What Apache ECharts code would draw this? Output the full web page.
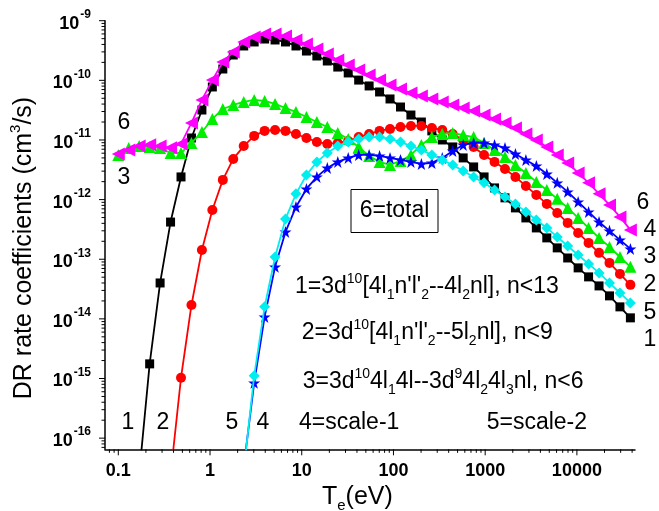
<!DOCTYPE html>
<html>
<head>
<meta charset="utf-8">
<script src="https://cdn.jsdelivr.net/npm/echarts@6/dist/echarts.min.js"></script>
<style>
  html, body { margin: 0; padding: 0; background: #fff; }
  #chart { width: 659px; height: 511px; }
</style>
</head>
<body>
<div id="chart"></div>
<script>
// electron temperature (eV), one entry per marker
const temperatures = [
  0.1, 0.13, 0.169, 0.2197, 0.2856, 0.3713, 0.4827, 0.6275, 0.8157, 1.06,
  1.379, 1.792, 2.33, 3.029, 3.937, 5.119, 6.654, 8.65, 11.25, 14.62,
  19.0, 24.71, 32.12, 41.75, 54.28, 70.56, 91.73, 119.3, 155.0, 201.5,
  262.0, 340.6, 442.8, 575.6, 748.3, 972.8, 1265, 1644, 2137, 2778,
  3612, 4696, 6104, 7935, 10316, 13411, 17434, 22664, 29463, 38302,
]

// DR rate coefficients (cm^3/s)
const rate1 = [
  null, null, 2.5e-17, 1.76e-15, 4.0e-14, 4.2e-13, 2.4e-12, 1.08e-11, 3.18e-11, 7.74e-11,
  1.55e-10, 2.66e-10, 3.77e-10, 4.40e-10, 4.93e-10, 4.75e-10, 4.40e-10, 3.77e-10, 3.10e-10, 2.56e-10,
  2.11e-10, 1.67e-10, 1.33e-10, 1.01e-10, 8.05e-11, 6.38e-11, 4.87e-11, 3.57e-11, 2.62e-11, 2.00e-11,
  1.42e-11, 1.0e-11, 7.64e-12, 5.0e-12, 3.53e-12, 2.40e-12, 1.57e-12, 1.07e-12, 7.26e-13, 4.93e-13,
  3.35e-13, 2.28e-13, 1.55e-13, 1.05e-13, 7.16e-14, 5.06e-14, 3.57e-14, 2.43e-14, 1.59e-14, 1.04e-14,
]
const rate2 = [
  null, null, null, null, null, 2.4e-17, 1.03e-15, 1.71e-14, 1.43e-13, 6.71e-13,
  2.14e-12, 4.81e-12, 7.9e-12, 1.17e-11, 1.42e-11, 1.47e-11, 1.42e-11, 1.26e-11, 1.08e-11, 9.27e-12,
  8.58e-12, 8.91e-12, 9.64e-12, 1.12e-11, 1.26e-11, 1.42e-11, 1.53e-11, 1.65e-11, 1.72e-11, 1.72e-11,
  1.59e-11, 1.47e-11, 1.26e-11, 1.0e-11, 7.64e-12, 5.61e-12, 4.29e-12, 3.27e-12, 2.40e-12, 1.69e-12,
  1.20e-12, 8.47e-13, 5.98e-13, 4.07e-13, 2.76e-13, 1.88e-13, 1.28e-13, 8.69e-14, 5.68e-14, 3.72e-14,
]
const rate3 = [
  5.61e-12, 7.36e-12, 7.9e-12, 7.64e-12, 7.36e-12, 6.05e-12, 6.05e-12, 8.91e-12, 1.36e-11, 2.25e-11,
  3.31e-11, 3.86e-11, 4.34e-11, 4.69e-11, 4.51e-11, 4.02e-11, 3.44e-11, 2.95e-11, 2.43e-11, 2.00e-11,
  1.65e-11, 1.31e-11, 1.04e-11, 7.64e-12, 5.40e-12, 4.29e-12, 3.81e-12, 4.45e-12, 5.61e-12, 8.26e-12,
  1.12e-11, 1.26e-11, 1.31e-11, 1.21e-11, 1.12e-11, 8.91e-12, 6.81e-12, 5.19e-12, 3.81e-12, 2.80e-12,
  1.98e-12, 1.45e-12, 1.03e-12, 7.26e-13, 4.93e-13, 3.35e-13, 2.28e-13, 1.61e-13, 1.09e-13, 7.45e-14,
]
const rate4 = [
  null, null, null, null, null, null, null, null, null, null,
  null, null, 3.3e-17, 8.45e-16, 1.08e-14, 7.45e-14, 2.87e-13, 7.53e-13, 1.51e-12, 2.40e-12,
  3.40e-12, 4.29e-12, 5.0e-12, 5.61e-12, 5.61e-12, 5.40e-12, 5.0e-12, 4.62e-12, 4.29e-12, 3.96e-12,
  4.12e-12, 5.0e-12, 6.54e-12, 8.26e-12, 8.91e-12, 8.91e-12, 8.26e-12, 7.36e-12, 5.82e-12, 4.62e-12,
  3.67e-12, 2.69e-12, 1.91e-12, 1.35e-12, 9.14e-13, 6.22e-13, 4.22e-13, 2.99e-13, 2.11e-13, 1.49e-13,
]
const rate5 = [
  null, null, null, null, null, null, null, null, null, null,
  null, null, 2.83e-17, 1.11e-15, 1.59e-14, 1.09e-13, 4.74e-13, 1.25e-12, 2.59e-12, 4.29e-12,
  6.05e-12, 7.9e-12, 9.27e-12, 1.04e-11, 1.12e-11, 1.12e-11, 1.04e-11, 9.27e-12, 7.9e-12, 6.81e-12,
  5.61e-12, 4.62e-12, 3.81e-12, 3.03e-12, 2.40e-12, 1.91e-12, 1.45e-12, 1.11e-12, 8.47e-13, 6.22e-13,
  4.56e-13, 3.35e-13, 2.37e-13, 1.67e-13, 1.18e-13, 8.35e-14, 5.90e-14, 4.01e-14, 2.72e-14, 1.85e-14,
]
const rate6 = [
  5.8e-12, 6.8e-12, 7.9e-12, 8.3e-12, 7.9e-12, 7.4e-12, 8.6e-12, 1.93e-11, 4.69e-11, 1.01e-10,
  2.03e-10, 2.99e-10, 4.40e-10, 5.33e-10, 5.98e-10, 5.98e-10, 5.53e-10, 4.75e-10, 4.07e-10, 3.36e-10,
  2.77e-10, 2.19e-10, 1.81e-10, 1.49e-10, 1.23e-10, 1.01e-10, 8.36e-11, 7.16e-11, 6.14e-11, 5.47e-11,
  4.87e-11, 4.34e-11, 3.86e-11, 3.44e-11, 3.06e-11, 2.62e-11, 2.25e-11, 1.93e-11, 1.59e-11, 1.26e-11,
  1.0e-11, 7.64e-12, 5.61e-12, 4.12e-12, 2.80e-12, 1.91e-12, 1.25e-12, 8.15e-13, 5.13e-13, 3.10e-13,
]

// axis ticks
const xMajor = [0.1, 1, 10, 100, 1000, 10000]
const xTickLabels = ['0.1', '1', '10', '100', '1000', '10000']
const yMajor = [1e-16, 1e-15, 1e-14, 1e-13, 1e-12, 1e-11, 1e-10, 1e-9]
const yTickLabels = ['-16', '-15', '-14', '-13', '-12', '-11', '-10', '-9']

const xMin = 0.0716
const xMax = 43000
const yMin = 6.5e-17
const yMax = 1e-9

const font = "'Liberation Sans', Arial, Helvetica, sans-serif"
const starPath = 'path://M50,2 L62,38 L98,38 L69,60 L80,96 L50,74 L20,96 L31,60 L2,38 L38,38 Z'

function pairs(values) {
  return temperatures.map((t, i) => [t, values[i]]).filter(p => p[1] != null)
}

function minorTicks(lo, hi) {
  const out = []
  for (let e = -18; e <= 5; e++) {
    for (let m = 2; m <= 9; m++) {
      const v = m * Math.pow(10, e)
      if (v >= lo && v <= hi) out.push(v)
    }
  }
  return out
}

function majorIndex(list, v) {
  return list.findIndex(m => Math.abs(Math.log10(m) - Math.log10(v)) < 1e-6)
}

function tickItem(isX) {
  return function (params, api) {
    const p = api.coord([api.value(0), api.value(1)])
    const len = api.value(2)
    const shape = isX
      ? { x1: p[0], y1: p[1], x2: p[0], y2: p[1] + len }
      : { x1: p[0], y1: p[1], x2: p[0] - len, y2: p[1] }
    return { type: 'line', shape, style: { stroke: '#000', lineWidth: 1 } }
  }
}

const xTicks = xMajor.map(v => [v, yMin, 6]).concat(minorTicks(xMin, xMax).map(v => [v, yMin, 3.5]))
const yTicks = yMajor.map(v => [xMin, v, 6]).concat(minorTicks(yMin, yMax).map(v => [xMin, v, 3.5]))

function rateSeries(name, values, color, symbol, size, extra) {
  return Object.assign({
    name,
    type: 'line',
    data: pairs(values),
    symbol,
    symbolSize: size,
    showAllSymbol: true,
    clip: true,
    lineStyle: { color, width: 1.8 },
    itemStyle: { color },
    animation: false,
  }, extra || {})
}

const supSub = {
  sup: { fontSize: 14, fontFamily: font, verticalAlign: 'top', lineHeight: 30 },
  sub: { fontSize: 14, fontFamily: font, verticalAlign: 'bottom', lineHeight: 30 },
}

function label(text, x, y, align) {
  return {
    type: 'text',
    x, y,
    style: {
      text,
      font: '23px ' + font,
      fill: '#000',
      align: align || 'center',
      verticalAlign: 'middle',
      textAlign: align || 'center',
      textVerticalAlign: 'middle',
      rich: supSub,
    },
  }
}

const chart = echarts.init(document.getElementById('chart'))

const option = {
  animation: false,
  backgroundColor: '#fff',
  grid: { left: 105, right: 24, top: 20.7, bottom: 61.7 },
  xAxis: {
    type: 'log',
    min: xMin,
    max: xMax,
    axisLine: { lineStyle: { color: '#000', width: 1.5 } },
    axisTick: { show: false },
    splitLine: { show: false },
    axisLabel: {
      interval: 0,
      margin: 13,
      color: '#000',
      fontSize: 18,
      fontWeight: 'bold',
      fontFamily: font,
      formatter(v) {
        const i = majorIndex(xMajor, v)
        return i < 0 ? '' : xTickLabels[i]
      },
    },
  },
  yAxis: {
    type: 'log',
    min: yMin,
    max: yMax,
    axisLine: { lineStyle: { color: '#000', width: 1.5 } },
    axisTick: { show: false },
    splitLine: { show: false },
    axisLabel: {
      interval: 0,
      margin: 14,
      formatter(v) {
        const i = majorIndex(yMajor, v)
        return i < 0 ? '' : `{b|10}{s|${yTickLabels[i]}}`
      },
      rich: {
        b: { fontSize: 18, fontWeight: 'bold', fontFamily: font, color: '#000', lineHeight: 24, verticalAlign: 'bottom', padding: [0, 1, 0, 0] },
        s: { fontSize: 12, fontWeight: 'bold', fontFamily: font, color: '#000', lineHeight: 24, verticalAlign: 'top' },
      },
    },
  },
  series: [
    rateSeries('1', rate1, '#000000', 'rect', 9, { z: 2 }),
    rateSeries('2', rate2, '#ff0000', 'circle', 10, { z: 3 }),
    rateSeries('3', rate3, '#00ee00', 'triangle', 12, { z: 4 }),
    rateSeries('4', rate4, '#0000ff', starPath, 12, { z: 5 }),
    rateSeries('5', rate5, '#00eeee', 'diamond', 11, { z: 6 }),
    rateSeries('6', rate6, '#ff00ff', 'triangle', 13, { z: 7, symbolRotate: 90 }),
    { type: 'custom', data: xTicks, renderItem: tickItem(true), clip: false, silent: true, z: 8 },
    { type: 'custom', data: yTicks, renderItem: tickItem(false), clip: false, silent: true, z: 8 },
  ],
  graphic: [
    {
      type: 'text',
      x: 24, y: 248,
      rotation: Math.PI / 2,
      style: {
        text: 'DR rate coefficients (cm{sup|3}/s)',
        font: '25px ' + font,
        fill: '#000',
        align: 'center', verticalAlign: 'middle',
        textAlign: 'center', textVerticalAlign: 'middle',
        rich: { sup: { fontSize: 15, fontFamily: font, verticalAlign: 'top', lineHeight: 32 } },
      },
    },
    {
      type: 'text',
      x: 322, y: 497,
      style: {
        text: 'T{sub|e}(eV)',
        font: '25px ' + font,
        fill: '#000',
        align: 'left', verticalAlign: 'middle',
        textAlign: 'left', textVerticalAlign: 'middle',
        rich: { sub: { fontSize: 15, fontFamily: font, verticalAlign: 'bottom', lineHeight: 32 } },
      },
    },
    {
      type: 'rect',
      shape: { x: 351, y: 189.5, width: 87, height: 43 },
      style: { fill: 'none', stroke: '#000', lineWidth: 1 },
    },
    label('6=total', 394.5, 211),
    label('1=3d{sup|10}[4l{sub|1}n\'l\'{sub|2}--4l{sub|2}nl], n<13', 295, 287, 'left'),
    label('2=3d{sup|10}[4l{sub|1}n\'l\'{sub|2}--5l{sub|2}nl], n<9', 301.7, 333, 'left'),
    label('3=3d{sup|10}4l{sub|1}4l--3d{sup|9}4l{sub|2}4l{sub|3}nl, n<6', 302.7, 382, 'left'),
    label('4=scale-1', 299, 423, 'left'),
    label('5=scale-2', 486.7, 423, 'left'),
    label('6', 124, 123),
    label('3', 124, 178),
    label('1', 128, 423),
    label('2', 163, 423),
    label('5', 232, 423),
    label('4', 263, 423),
    label('6', 643, 203),
    label('4', 650, 230),
    label('3', 650, 257),
    label('2', 650, 285),
    label('5', 650, 313),
    label('1', 650, 340),
  ],
}

chart.setOption(option)
</script>
</body>
</html>
